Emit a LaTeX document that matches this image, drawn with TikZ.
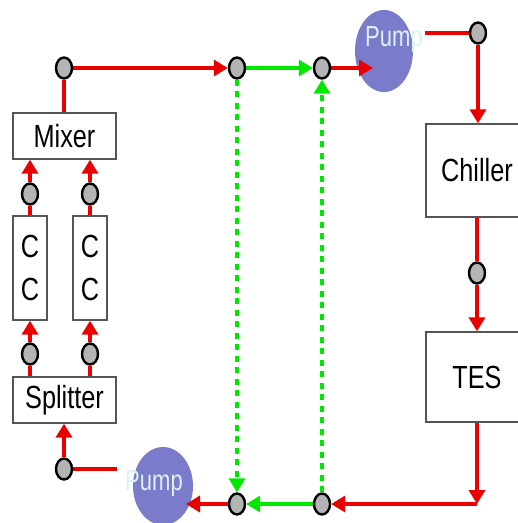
\documentclass[tikz,border=0pt]{standalone}
\usepackage{fontspec}
\newfontfamily\lblfont[FakeStretch=0.79]{Liberation Sans}
\newfontfamily\pumpfont[FakeStretch=0.76]{Liberation Sans}
\usetikzlibrary{arrows.meta,shapes.geometric}
\definecolor{pipered}{RGB}{235,0,0}
\definecolor{pipegreen}{RGB}{0,232,0}
\definecolor{pumpblue}{RGB}{123,123,204}
\definecolor{pumptext}{RGB}{218,242,242}
\definecolor{juncgray}{RGB}{180,180,180}
\definecolor{boxgray}{RGB}{85,85,85}
\pgfdeclarelayer{back}
\pgfdeclarelayer{pipes}
\pgfsetlayers{back,pipes,main}
\begin{document}
\begin{tikzpicture}[x=1pt,y=-1pt,
  junc/.style={ellipse, draw=black, line width=2.4pt, fill=juncgray, minimum width=16pt, minimum height=21pt, inner sep=0pt},
  unit/.style={draw=boxgray, line width=1.3pt, fill=white, inner sep=0pt, font=\lblfont\fontsize{32}{43}\selectfont, align=center},
  pumpbody/.style={ellipse, fill=pumpblue, inner sep=0pt},
  pumplabel/.style={text=pumptext, font=\pumpfont\fontsize{29}{30}\selectfont, inner sep=0pt, anchor=base west},
  pipe/.style={pipered, line width=4.8pt},
  flow/.style={pipe, -{Triangle[length=14pt,width=16pt]}},
  gflow/.style={pipegreen, line width=4.8pt, -{Triangle[length=14pt,width=16pt]}},
  gdots/.style={pipegreen, line width=4.5pt, dash pattern=on 6pt off 5.5pt, -{Triangle[length=14pt,width=16pt]}}
]
\useasboundingbox (0,0) rectangle (518,523);
\clip (0,0) rectangle (518,523);

% pumps
\begin{pgfonlayer}{back}
\node[pumpbody, minimum width=58pt, minimum height=82pt] (pump1) at (384,51) {};
\node[pumpbody, minimum width=60pt, minimum height=78pt] (pump2) at (163,486) {};
\end{pgfonlayer}

% units
\node[unit, minimum width=103pt, minimum height=46pt] (mixer) at (64.5,136) {Mixer};
\node[unit, minimum width=34pt, minimum height=104pt] (cc1) at (30,268) {C\\C};
\node[unit, minimum width=34pt, minimum height=104pt] (cc2) at (90,268) {C\\C};
\node[unit, minimum width=103pt, minimum height=46pt] (splitter) at (64.5,400) {Splitter};
\node[unit, minimum width=102pt, minimum height=93pt] (chiller) at (477,170.5) {Chiller};
\node[unit, minimum width=102pt, minimum height=90pt] (tes) at (477,377) {TES};

% junctions
\node[junc] (c1) at (64,68) {};
\node[junc] (c2) at (237,68) {};
\node[junc] (c3) at (322,68) {};
\node[junc] (c4) at (478,33) {};
\node[junc] (c5) at (477,273) {};
\node[junc] (c6) at (322,504) {};
\node[junc] (c7) at (237,504) {};
\node[junc] (c8) at (64,469) {};
\node[junc] (m1) at (30,194) {};
\node[junc] (m2) at (90,194) {};
\node[junc] (s1) at (30,354) {};
\node[junc] (s2) at (90,354) {};

% free ends
\coordinate (p1in) at (373,68);
\coordinate (p1out) at (425,33);
\coordinate (p2in) at (186,504);
\coordinate (p2out) at (117,469);
\coordinate (corner) at (477,504);

\begin{pgfonlayer}{pipes}
\draw[pipe] (mixer.north -| c1) -- (c1);
\draw[flow] (c1) -- (c2);
\draw[gflow] (c2) -- (c3);
\draw[flow] (c3) -- (p1in);
\draw[pipe] (p1out) -- (c4);
\draw[flow] (c4) -- (chiller.north -| c4);
\draw[pipe] (chiller.south -| c5) -- (c5);
\draw[flow] (c5) -- (tes.north -| c5);
\draw[flow] (tes.south -| corner) -- (corner);
\draw[flow] (corner) -- (c6);
\draw[gflow] (c6) -- (c7);
\draw[flow] (c7) -- (p2in);
\draw[pipe] (p2out) -- (c8);
\draw[flow] (c8) -- (splitter.south -| c8);
\draw[pipe] (splitter.north -| s1) -- (s1);
\draw[pipe] (splitter.north -| s2) -- (s2);
\draw[flow] (s1) -- (cc1.south);
\draw[flow] (s2) -- (cc2.south);
\draw[pipe] (cc1.north) -- (m1);
\draw[pipe] (cc2.north) -- (m2);
\draw[flow] (m1) -- (mixer.south -| m1);
\draw[flow] (m2) -- (mixer.south -| m2);
\draw[gdots] (c2) -- (c7);
\draw[gdots] (c6) -- (c3);
\end{pgfonlayer}

% pump labels
\node[pumplabel] (p1t) at (365,46) {Pump};
\node[pumplabel] (p2t) at (125,490) {Pump};
\end{tikzpicture}
\end{document}
